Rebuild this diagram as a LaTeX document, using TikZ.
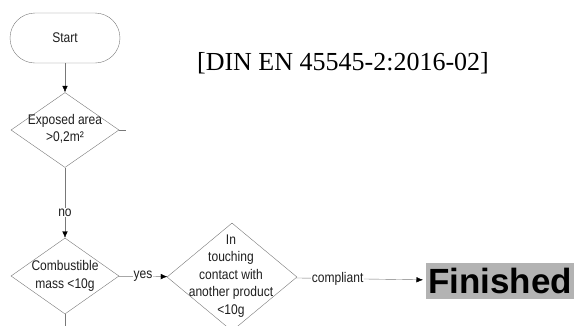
\documentclass[tikz,border=0pt]{standalone}
\usepackage{fontspec}
\setmainfont{Liberation Serif}
\setsansfont{Liberation Sans}
\newfontfamily\flowfont[FakeStretch=0.86]{Liberation Sans}
\usetikzlibrary{shapes.geometric,arrows.meta,positioning}
\definecolor{flowline}{RGB}{120,120,120}
\definecolor{flowtext}{RGB}{30,30,30}
\definecolor{doneshade}{RGB}{179,179,179}

\begin{document}
\begin{tikzpicture}[x=1pt, y=-1pt,
    terminal/.style={draw=flowline, thin, rectangle, rounded corners=25pt,
        minimum width=110pt, minimum height=50pt, text=flowtext,
        font=\flowfont\fontsize{14}{17}\selectfont},
    decision/.style={draw=flowline, thin, diamond, inner sep=0pt},
    decisiontext/.style={align=center, text=flowtext, inner sep=0pt,
        font=\flowfont\fontsize{14}{17.5}\selectfont},
    flow/.style={draw=flowline, thin, -{Latex[length=6.5pt,width=5.5pt,black]}},
    edgelabel/.style={fill=white, inner sep=1pt, text=flowtext,
        font=\flowfont\fontsize{14}{14}\selectfont}]
    \useasboundingbox (0,0) rectangle (574,325);

    % start terminal
    \node[terminal] (start) at (65,38) {Start};

    % decisions
    \node[decision, minimum width=108pt, minimum height=75pt] (exposed) at (65,130) {};
    \node[decisiontext] (exposedtxt) at (65,129) {Exposed area\\>0,2m²};

    \node[decision, minimum width=108pt, minimum height=76pt] (mass) at (65,276) {};
    \node[decisiontext] (masstxt) at (65,276) {Combustible\\mass <10g};

    \node[decision, minimum width=130pt, minimum height=108pt] (contact) at (232,277) {};
    \node[decisiontext] (contacttxt) at (231,276) {In\\touching\\contact with\\another product\\<10g};

    % result
    \node[fill=doneshade, anchor=west, inner xsep=2pt, inner ysep=5pt,
        font=\sffamily\bfseries\fontsize{35}{35}\selectfont] (done) at (426,281) {Finished};

    % standard reference
    \node[font=\fontsize{26}{26}\selectfont] (norm) at (343,63) {[DIN EN 45545-2:2016-02]};

    % connectors
    \coordinate (exposedout) at ([xshift=7pt]exposed.east);
    \coordinate (massout) at (65,330);
    \draw[flow] (start) -- (exposed);
    \draw[flow] (exposed) -- node[edgelabel, pos=0.64] {no} (mass);
    \draw[draw=flowline, thin] (exposed.east) -- (exposedout);
    \draw[draw=flowline, thin] (mass.south) -- (massout);
    \draw[flow] (mass) -- node[edgelabel] {yes} (contact);
    \draw[flow, shorten >=3pt] (contact) -- node[edgelabel, pos=0.32] {compliant} (done);
\end{tikzpicture}
\end{document}
